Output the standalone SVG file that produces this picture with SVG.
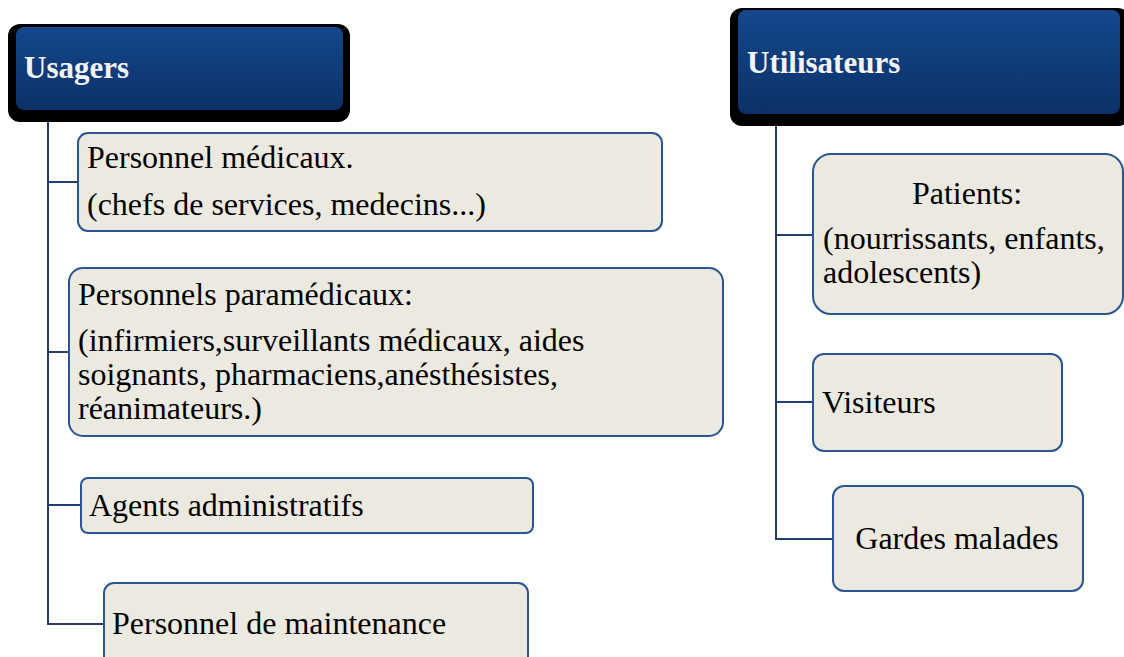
<svg xmlns="http://www.w3.org/2000/svg" width="1124" height="657" viewBox="0 0 1124 657">
<defs>
<linearGradient id="hdr" x1="0" y1="0" x2="0" y2="1">
<stop offset="0" stop-color="#14478C"/>
<stop offset="1" stop-color="#0B3167"/>
</linearGradient>
<style>
.box{fill:#ECEAE0;stroke:#2B5591;stroke-width:2}
.t{font-family:"Liberation Serif","Times New Roman",serif;font-size:32px;fill:#000}
.h{font-family:"Liberation Serif","Times New Roman",serif;font-size:31px;font-weight:bold;fill:#F4F4F8}
.c{fill:none;stroke:#203F70;stroke-width:2}
</style>
</defs>
<rect width="1124" height="657" fill="#fff"/>
<g id="connectors">
<path class="c" d="M48 110 V624 H104 M48 182 H78 M48 352 H69 M48 505 H81"/>
<path class="c" d="M776 114 V539 H833 M776 235 H813 M776 402 H813"/>
</g>
<g id="usagers">
<rect x="8" y="24" width="342" height="98" rx="12" fill="#000"/>
<rect x="16" y="27" width="327" height="83" rx="8" fill="url(#hdr)"/>
<text class="h" x="24" y="78">Usagers</text>
</g>
<g id="utilisateurs">
<rect x="730" y="8" width="400" height="118" rx="12" fill="#000"/>
<rect x="738" y="10" width="382" height="104" rx="8" fill="url(#hdr)"/>
<text class="h" x="747" y="73">Utilisateurs</text>
</g>
<g id="medicaux">
<rect class="box" x="78" y="133" width="584" height="98" rx="10"/>
<text class="t" x="87" y="168">Personnel médicaux.</text>
<text class="t" x="87" y="215">(chefs de services, medecins...)</text>
</g>
<g id="paramedicaux">
<rect class="box" x="69" y="268" width="654" height="168" rx="14"/>
<text class="t" x="78" y="305">Personnels paramédicaux:</text>
<text class="t" x="78" y="351">(infirmiers,surveillants médicaux, aides</text>
<text class="t" x="78" y="385">soignants, pharmaciens,anésthésistes,</text>
<text class="t" x="78" y="419">réanimateurs.)</text>
</g>
<g id="administratifs">
<rect class="box" x="81" y="478" width="452" height="55" rx="7"/>
<text class="t" x="89" y="516">Agents administratifs</text>
</g>
<g id="maintenance">
<rect class="box" x="104" y="583" width="424" height="90" rx="10"/>
<text class="t" x="112" y="634">Personnel de maintenance</text>
</g>
<g id="patients">
<rect class="box" x="813" y="154" width="310" height="160" rx="18"/>
<text class="t" x="967" y="204" text-anchor="middle">Patients:</text>
<text class="t" x="823" y="249">(nourrissants, enfants,</text>
<text class="t" x="823" y="283">adolescents)</text>
</g>
<g id="visiteurs">
<rect class="box" x="813" y="354" width="249" height="97" rx="11"/>
<text class="t" x="822" y="413">Visiteurs</text>
</g>
<g id="gardes">
<rect class="box" x="833" y="486" width="250" height="105" rx="11"/>
<text class="t" x="957" y="549" text-anchor="middle">Gardes malades</text>
</g>
</svg>
